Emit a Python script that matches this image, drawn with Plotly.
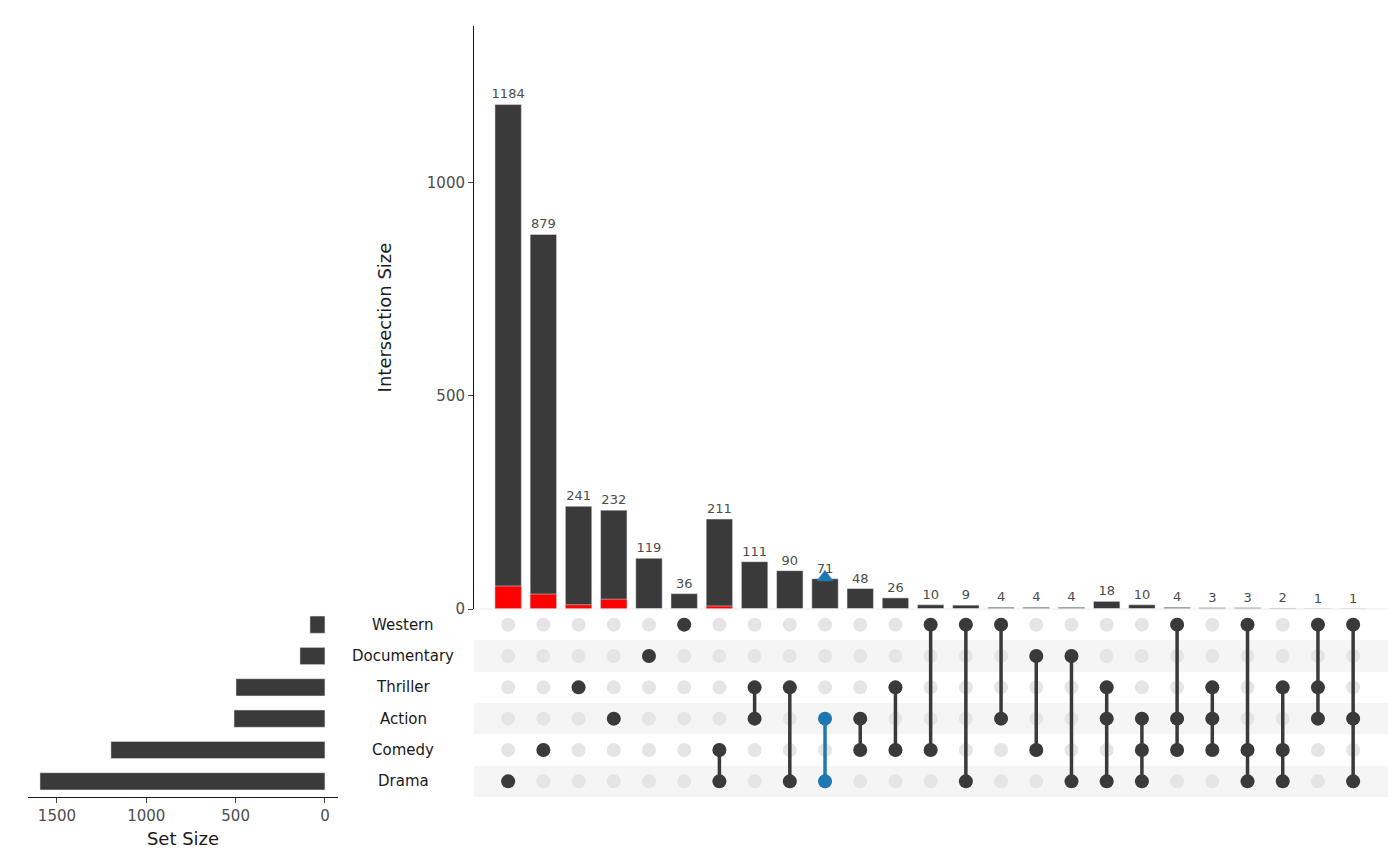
import plotly.graph_objects as go

sets = ["Drama", "Comedy", "Action", "Thriller", "Documentary", "Western"]
set_sizes = [1595, 1198, 509, 498, 140, 84]

counts = [1184, 879, 241, 232, 119, 36, 211, 111, 90, 71, 48, 26, 10, 9, 4, 4, 4, 18, 10, 4, 3, 3, 2, 1, 1]
red_counts = [54, 35, 10, 23, 0, 0, 7, 0, 0, 0, 0, 0, 0, 0, 0, 0, 0, 0, 0, 0, 0, 0, 0, 0, 0]
members = [
    ["Drama"], ["Comedy"], ["Thriller"], ["Action"], ["Documentary"], ["Western"],
    ["Comedy", "Drama"], ["Thriller", "Action"], ["Thriller", "Drama"], ["Action", "Drama"],
    ["Action", "Comedy"], ["Thriller", "Comedy"], ["Western", "Comedy"], ["Western", "Drama"],
    ["Western", "Action"], ["Documentary", "Comedy"], ["Documentary", "Drama"],
    ["Thriller", "Action", "Drama"], ["Action", "Comedy", "Drama"], ["Western", "Action", "Comedy"],
    ["Thriller", "Action", "Comedy"], ["Western", "Comedy", "Drama"], ["Thriller", "Comedy", "Drama"],
    ["Western", "Thriller", "Action"], ["Western", "Action", "Drama"],
]
highlight_col = 9

DARK = "#3a3a3a"
n = len(counts)
cols = list(range(n))
font = dict(family="DejaVu Sans", size=13, color="#4d4d4d")

fig = go.Figure()

# intersection bars
fig.add_trace(go.Bar(x=cols, y=counts, marker_color=DARK, width=0.75,
                     text=[str(c) for c in counts], textposition="outside",
                     textangle=0, constraintext="none",
                     textfont=dict(size=13, color="#4d4d4d"), cliponaxis=False,
                     xaxis="x", yaxis="y", hoverinfo="skip"))
fig.add_trace(go.Bar(x=cols, y=red_counts, marker_color="#ff0000", width=0.75,
                     xaxis="x", yaxis="y", hoverinfo="skip"))
fig.add_trace(go.Scatter(x=[highlight_col], y=[74], mode="markers",
                         marker=dict(symbol="triangle-up", size=15, color="#1f78b4"),
                         xaxis="x", yaxis="y", cliponaxis=False))

# matrix background dots
gx, gy = [], []
for c in cols:
    for r in range(len(sets)):
        gx.append(c); gy.append(r)
fig.add_trace(go.Scatter(x=gx, y=gy, mode="markers",
                         marker=dict(size=14, color="#e5e5e5"), xaxis="x2", yaxis="y2"))

for c, mem in enumerate(members):
    rows = [sets.index(m) for m in mem]
    color = "#1f78b4" if c == highlight_col else DARK
    fig.add_trace(go.Scatter(x=[c] * len(rows), y=sorted(rows), mode="lines+markers",
                             line=dict(color=color, width=3.5),
                             marker=dict(size=14, color=color), xaxis="x2", yaxis="y2"))

# set size bars
fig.add_trace(go.Bar(y=list(range(len(sets))), x=set_sizes, orientation="h",
                     marker_color=DARK, width=0.55, xaxis="x3", yaxis="y3"))

shapes = []
for r in [0, 2, 4]:
    shapes.append(dict(type="rect", xref="x2", yref="y2", x0=-0.97, x1=24.99,
                       y0=r - 0.5, y1=r + 0.5, fillcolor="#f5f5f5", line_width=0, layer="below"))
shapes.append(dict(type="line", xref="paper", yref="paper", x0=466 / 1400, x1=1380 / 1400,
                   y0=1 - 601 / 866, y1=1 - 601 / 866, line=dict(color="#ebebeb", width=1)))

annotations = [dict(x=395 / 1400, y=r, xref="paper", yref="y2", text=s, showarrow=False,
                    xanchor="center", font=dict(family="DejaVu Sans", size=15, color="#1a1a1a"))
               for r, s in enumerate(sets)]

xr = [-0.97, 24.99]
fig.update_layout(
    width=1400, height=866, margin=dict(l=0, r=0, t=0, b=0, autoexpand=False),
    plot_bgcolor="white", paper_bgcolor="white", showlegend=False,
    barmode="overlay", font=font, shapes=shapes, annotations=annotations,
    xaxis=dict(domain=[466 / 1400, 1380 / 1400], range=xr, anchor="y", visible=False),
    yaxis=dict(domain=[1 - 601 / 866, 1 - 18 / 866], range=[0, 1368], anchor="x",
               showline=True, linecolor="#1a1a1a", ticks="outside", ticklen=5,
               tickvals=[0, 500, 1000], showgrid=False, zeroline=False,
               tickfont=dict(size=15, color="#4d4d4d"),
               title=dict(text="Intersection Size", font=dict(size=18, color="#1a1a1a"), standoff=30)),
    xaxis2=dict(domain=[466 / 1400, 1380 / 1400], range=xr, anchor="y2", visible=False),
    yaxis2=dict(domain=[1 - 789 / 866, 1 - 601 / 866], range=[-0.5, 5.5], anchor="x2", visible=False),
    xaxis3=dict(domain=[20 / 1400, 330 / 1400], range=[1662, -73], anchor="y3",
                showline=True, linecolor="#1a1a1a", ticks="outside", ticklen=5,
                tickvals=[0, 500, 1000, 1500], showgrid=False, zeroline=False,
                tickfont=dict(size=15, color="#4d4d4d"),
                title=dict(text="Set Size", font=dict(size=18, color="#1a1a1a"), standoff=8)),
    yaxis3=dict(domain=[1 - 789 / 866, 1 - 601 / 866], range=[-0.5, 5.5], anchor="x3", visible=False),
)

fig.write_html("out.html")
